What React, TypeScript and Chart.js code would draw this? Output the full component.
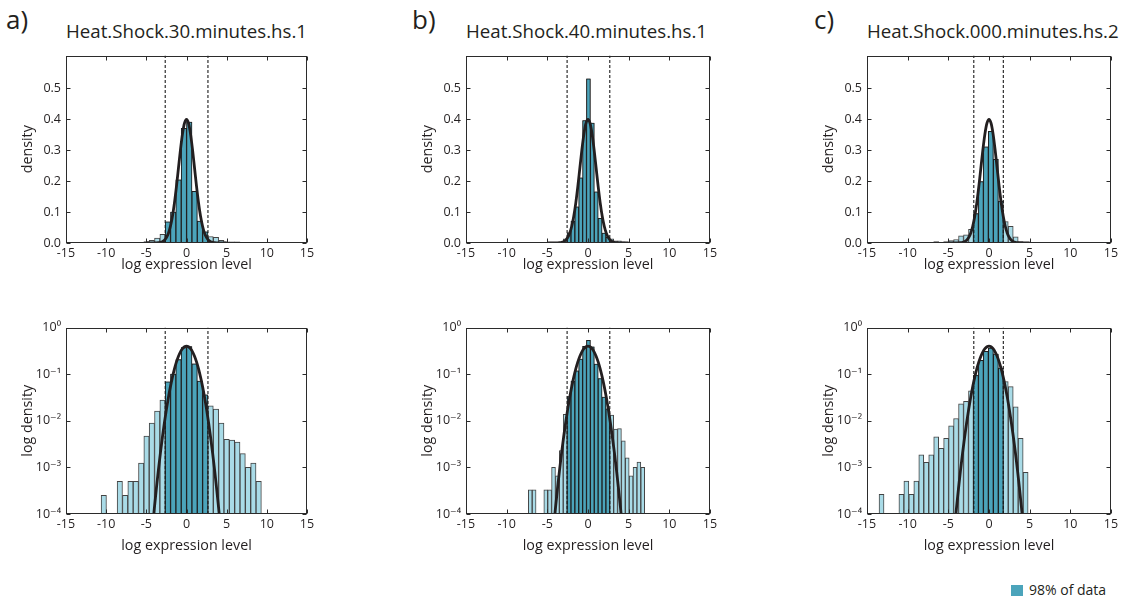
import React, { useEffect, useRef } from "react";
import { Chart, registerables } from "chart.js";

Chart.register(...registerables);

// ---------- shared axis data ----------
const X_TICKS = [-15, -10, -5, 0, 5, 10, 15];
const LIN_TICKS = [0, 0.1, 0.2, 0.3, 0.4, 0.5];
const LOG_TICKS = [1e-4, 1e-3, 1e-2, 1e-1, 1];
const LOG_TICK_LABELS = ["10⁻⁴", "10⁻³", "10⁻²", "10⁻¹", "10⁰"];

const PANEL_LETTERS = ["a)", "b)", "c)"];
const PANEL_TITLES = [
  "Heat.Shock.30.minutes.hs.1",
  "Heat.Shock.40.minutes.hs.1",
  "Heat.Shock.000.minutes.hs.2",
];
const X_TITLE = "log expression level";
const Y_TITLE_LIN = "density";
const Y_TITLE_LOG = "log density";
const LEGEND_LABEL = "98% of data";

// ---------- fitted normal density curve ----------
const CURVE_X = [
  -5, -4.75, -4.5, -4.25, -4, -3.75, -3.5, -3.25, -3, -2.75, -2.5, -2.25, -2, -1.75, -1.5, -1.25, -1, -0.75, -0.5, -0.25,
  0, 0.25, 0.5, 0.75, 1, 1.25, 1.5, 1.75, 2, 2.25, 2.5, 2.75, 3, 3.25, 3.5, 3.75, 4, 4.25, 4.5, 4.75, 5,
];
const CURVE_Y = [
  1.487e-6, 5.03e-6, 1.598e-5, 4.768e-5, 1.338e-4, 3.526e-4, 8.727e-4, 2.029e-3, 4.432e-3, 9.09e-3, 0.01753, 0.03174,
  0.05399, 0.08628, 0.12952, 0.18265, 0.24197, 0.30114, 0.35207, 0.38667, 0.39894, 0.38667, 0.35207, 0.30114, 0.24197,
  0.18265, 0.12952, 0.08628, 0.05399, 0.03174, 0.01753, 9.09e-3, 4.432e-3, 2.029e-3, 8.727e-4, 3.526e-4, 1.338e-4,
  4.768e-5, 1.598e-5, 5.03e-6, 1.487e-6,
];

// ---------- panel a: Heat.Shock.30.minutes.hs.1 ----------
const A_BIN_START = -10.63;
const A_BIN_WIDTH = 0.665;
const A_DENSITY = [
  2.5e-4, 0, 0, 5e-4, 2.5e-4, 5e-4, 5e-4, 1.23e-3, 4.7e-3, 8.9e-3, 0.0162, 0.0277, 0.068, 0.1, 0.204, 0.37, 0.39, 0.167,
  0.071, 0.036, 0.021, 0.0179, 8.9e-3, 4.0e-3, 3.85e-3, 3.5e-3, 1.97e-3, 1.0e-3, 1.23e-3, 5e-4,
];
const A_CORE = [12, 19];
const A_CUTOFFS = [-2.65, 2.67];

// ---------- panel b: Heat.Shock.40.minutes.hs.1 ----------
const B_BIN_START = -7.34;
const B_BIN_WIDTH = 0.477;
const B_DENSITY = [
  3.3e-4, 3.3e-4, 0, 0, 3.3e-4, 3.3e-4, 1.0e-3, 6.6e-4, 2.3e-3, 0.0138, 0.033, 0.071, 0.117, 0.21, 0.395, 0.53, 0.387,
  0.165, 0.08, 0.032, 0.018, 0.0132, 6.6e-3, 6.8e-3, 3.7e-3, 1.6e-3, 6.6e-4, 1.0e-3, 1.3e-3, 1.0e-3,
];
const B_CORE = [10, 20];
const B_CUTOFFS = [-2.57, 2.68];

// ---------- panel c: Heat.Shock.000.minutes.hs.2 ----------
const C_BIN_START = -13.52;
const C_BIN_WIDTH = 0.611;
const C_DENSITY = [
  2.65e-4, 0, 0, 0, 2.65e-4, 5.1e-4, 2.65e-4, 5.1e-4, 1.85e-3, 1.29e-3, 1.85e-3, 4.5e-3, 2.55e-3, 4.2e-3, 7.8e-3, 0.0112,
  0.023, 0.026, 0.044, 0.095, 0.198, 0.31, 0.36, 0.27, 0.135, 0.069, 0.054, 0.02, 4.2e-3, 7.8e-4,
];
const C_CORE = [19, 24];
const C_CUTOFFS = [-1.87, 1.76];

// ---------- styling ----------
const FONT = '"Open Sans", "DejaVu Sans", sans-serif';
const TEXT = "#231f20";
const DARK_FILL = "#4ba4bb";
const LIGHT_FILL = "#a9dbe7";
const DARK_EDGE = "#1e1e1e";
const LIGHT_EDGE = "#444444";

const PANELS = [
  { binStart: A_BIN_START, binWidth: A_BIN_WIDTH, density: A_DENSITY, core: A_CORE, cutoffs: A_CUTOFFS, left: 66, right: 307 },
  { binStart: B_BIN_START, binWidth: B_BIN_WIDTH, density: B_DENSITY, core: B_CORE, cutoffs: B_CUTOFFS, left: 466, right: 710 },
  { binStart: C_BIN_START, binWidth: C_BIN_WIDTH, density: C_DENSITY, core: C_CORE, cutoffs: C_CUTOFFS, left: 867, right: 1111 },
];

const ROWS = [
  { kind: "lin", top: 53, bottom: 243, xTitlePad: 14.6 },
  { kind: "log", top: 325, bottom: 514, xTitlePad: 4.4 },
];

const Y_AXIS_W = 66;
const X_AXIS_H = 45;
const PAD_TOP = 10;
const PAD_RIGHT = 10;

const framePlugin = {
  id: "frame",
  afterDraw(chart: any) {
    const { ctx, chartArea, scales } = chart;
    const l = Math.round(chartArea.left) + 0.5;
    const r = Math.round(chartArea.right) - 0.5;
    const t = Math.round(chartArea.top) + 0.5;
    const b = Math.round(chartArea.bottom) - 0.5;
    ctx.save();
    ctx.strokeStyle = "#2b2b2b";
    ctx.lineWidth = 1;
    ctx.strokeRect(l, t, r - l, b - t);
    const tl = 4;
    ctx.beginPath();
    scales.x.ticks.forEach((tk: any) => {
      const px = Math.round(scales.x.getPixelForValue(tk.value)) + 0.5;
      ctx.moveTo(px, b);
      ctx.lineTo(px, b - tl);
      ctx.moveTo(px, t);
      ctx.lineTo(px, t + tl);
    });
    scales.y.ticks.forEach((tk: any) => {
      const py = Math.round(scales.y.getPixelForValue(tk.value)) + 0.5;
      ctx.moveTo(l, py);
      ctx.lineTo(l + tl, py);
      ctx.moveTo(r, py);
      ctx.lineTo(r - tl, py);
    });
    ctx.stroke();
    ctx.restore();
  },
};

function HistPanel({ panel, row }: { panel: any; row: any }) {
  const ref = useRef<HTMLCanvasElement>(null);
  const boxW = panel.right - panel.left;
  const boxH = row.bottom - row.top;
  const w = boxW + Y_AXIS_W + PAD_RIGHT;
  const h = boxH + PAD_TOP + X_AXIS_H;
  const left = panel.left - Y_AXIS_W;
  const top = row.top - PAD_TOP;

  useEffect(() => {
    const isLog = row.kind === "log";
    const yMin = isLog ? 1e-4 : 0;
    const yMax = isLog ? 1 : 0.605;
    const centers = panel.density.map((_: number, k: number) => panel.binStart + panel.binWidth * (k + 0.5));
    const light = centers.map((x: number, k: number) => ({ x, y: panel.density[k] > 0 ? panel.density[k] : null }));
    const dark = centers.map((x: number, k: number) => ({
      x,
      y: k >= panel.core[0] && k <= panel.core[1] ? panel.density[k] : null,
    }));
    const curve = CURVE_X.map((x, i) => ({ x, y: CURVE_Y[i] }));
    const tickFont = { family: FONT, size: 12.5 };
    const titleFont = { family: FONT, size: 14.3 };

    const barCommon = {
      type: "bar",
      grouped: false,
      barPercentage: 1,
      categoryPercentage: 1,
      borderWidth: 1,
      borderSkipped: false,
      base: yMin,
    };

    const chart = new Chart(ref.current as HTMLCanvasElement, {
      type: "bar",
      data: {
        datasets: [
          {
            type: "line",
            data: curve,
            borderColor: "#231f20",
            borderWidth: 2.8,
            pointRadius: 0,
            fill: false,
            cubicInterpolationMode: "monotone",
            order: 0,
          },
          ...panel.cutoffs.map((c: number) => ({
            type: "line",
            data: [
              { x: c, y: yMin },
              { x: c, y: yMax },
            ],
            borderColor: "#1a1a1a",
            borderWidth: 1.1,
            borderDash: [3, 2],
            pointRadius: 0,
            fill: false,
            order: 1,
          })),
          { ...barCommon, data: dark, backgroundColor: DARK_FILL, borderColor: DARK_EDGE, order: 2 },
          { ...barCommon, data: light, backgroundColor: LIGHT_FILL, borderColor: LIGHT_EDGE, order: 3 },
        ] as any,
      },
      options: {
        animation: false,
        responsive: false,
        maintainAspectRatio: false,
        devicePixelRatio: 1,
        events: [],
        layout: { padding: { left: 0, top: PAD_TOP, right: PAD_RIGHT, bottom: 0 } },
        plugins: { legend: { display: false }, tooltip: { enabled: false } },
        scales: {
          x: {
            type: "linear",
            min: -15,
            max: 15,
            offset: false,
            afterBuildTicks: (s: any) => {
              s.ticks = X_TICKS.map((v) => ({ value: v }));
            },
            afterFit: (s: any) => {
              s.height = X_AXIS_H;
            },
            grid: { display: false, drawTicks: false },
            border: { display: false },
            ticks: {
              autoSkip: false,
              maxRotation: 0,
              padding: 2.5,
              font: tickFont,
              color: TEXT,
              callback: (v: any) => String(v),
            },
            title: {
              display: true,
              text: X_TITLE,
              font: titleFont,
              color: TEXT,
              padding: { top: 0, bottom: row.xTitlePad },
            },
          },
          y: {
            type: isLog ? "logarithmic" : "linear",
            min: yMin,
            max: yMax,
            afterBuildTicks: (s: any) => {
              s.ticks = (isLog ? LOG_TICKS : LIN_TICKS).map((v) => ({ value: v }));
            },
            afterFit: (s: any) => {
              s.width = Y_AXIS_W;
            },
            grid: { display: false, drawTicks: false },
            border: { display: false },
            ticks: {
              autoSkip: false,
              padding: 5,
              font: tickFont,
              color: TEXT,
              callback: (v: any) => {
                if (isLog) {
                  const i = LOG_TICKS.findIndex((t) => Math.abs(Math.log10(t) - Math.log10(v)) < 1e-6);
                  return i >= 0 ? LOG_TICK_LABELS[i] : "";
                }
                return Number(v).toFixed(1);
              },
            },
            title: {
              display: true,
              text: isLog ? Y_TITLE_LOG : Y_TITLE_LIN,
              font: titleFont,
              color: TEXT,
              padding: { top: 19.4, bottom: 0 },
            },
          },
        },
      } as any,
      plugins: [framePlugin],
    } as any);
    return () => chart.destroy();
  }, []);

  return (
    <canvas
      ref={ref}
      width={w}
      height={h}
      style={{ position: "absolute", left, top, width: w, height: h }}
    />
  );
}

export default function App() {
  return (
    <div
      style={{
        position: "absolute",
        left: 0,
        top: 0,
        width: 1123,
        height: 601,
        background: "#ffffff",
        fontFamily: FONT,
        color: TEXT,
        overflow: "hidden",
      }}
    >
      {PANELS.map((p, i) => (
        <React.Fragment key={i}>
          <div
            style={{
              position: "absolute",
              left: [6, 412, 814][i],
              top: 3,
              fontSize: 26,
              lineHeight: "32px",
            }}
          >
            {PANEL_LETTERS[i]}
          </div>
          <div
            style={{
              position: "absolute",
              left: p.left,
              top: 19,
              fontSize: 18.7,
              lineHeight: "23px",
              whiteSpace: "nowrap",
            }}
          >
            {PANEL_TITLES[i]}
          </div>
          {ROWS.map((r, j) => (
            <HistPanel key={j} panel={p} row={r} />
          ))}
        </React.Fragment>
      ))}
      <div
        style={{
          position: "absolute",
          left: 1011,
          top: 585,
          width: 12,
          height: 11,
          background: DARK_FILL,
        }}
      />
      <div
        style={{
          position: "absolute",
          left: 1029,
          top: 580,
          fontSize: 14,
          lineHeight: "19px",
          whiteSpace: "nowrap",
        }}
      >
        {LEGEND_LABEL}
      </div>
    </div>
  );
}
